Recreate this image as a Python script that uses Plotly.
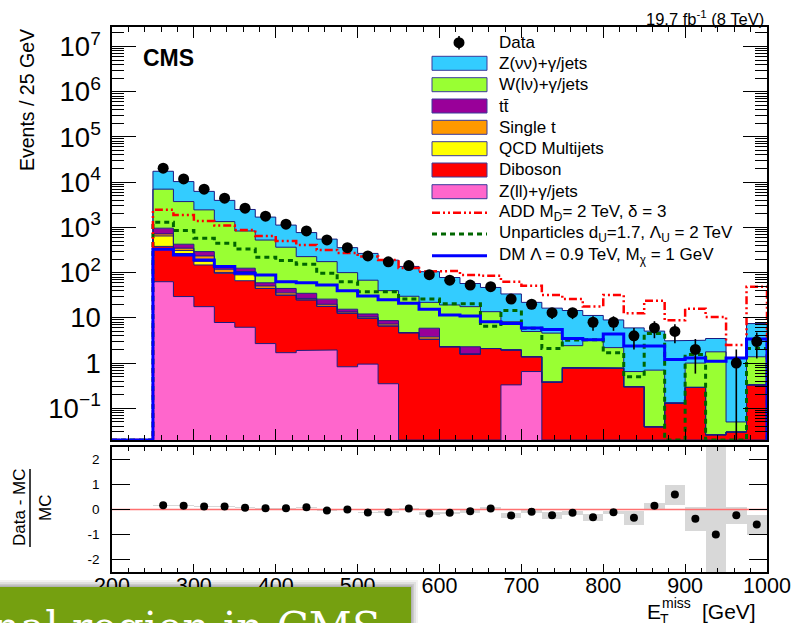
import plotly.graph_objects as go

W, H = 794, 623

# ---------------- data ----------------
bin_edges = [250 + 25 * i for i in range(31)]
bin_centers = [e + 12.5 for e in bin_edges[:-1]]

data_counts = [20400, 11800, 7000, 4430, 2660, 1770, 1180, 837, 529, 357,
               234, 173, 143, 90, 68, 53, 49, 26, 20, 13,
               13, 8, 8, 4, 6, 5, 2, 0, 1, 3]

zll = [63, 29.6, 17.7, 7.9, 6.2, 2.7, 1.7, 1.9, 1.95, 0.83,
       0.95, 0.35, 0, 0, 0, 0, 0, 0.33, 0.65, 0,
       0, 0, 0, 0, 0, 0, 0, 0, 0, 0]
diboson = [317, 235, 130, 89, 60, 42, 30, 23, 16, 11.8,
           8.85, 6.25, 4.7, 3.36, 2.3, 1.58, 2.1, 1.62, 0.73, 0.38,
           0.77, 0.77, 0.77, 0.30, 0.039, 0.13, 0.29, 0.026, 0.03, 0.33]
qcd = [266, 45, 30, 3, 23, 0, 0, 0, 0, 0,
       0, 0, 0, 0, 0, 0, 0, 0, 0, 0,
       0, 0, 0, 0, 0, 0, 0, 0, 0, 0]
single_t = [72, 37, 56, 19, 16, 6, 4, 2, 2, 0.9,
            0.7, 0.7, 0, 0.44, 0, 0, 0, 0, 0, 0,
            0.03, 0, 0, 0, 0, 0, 0, 0, 0, 0]
ttbar = [242, 78, 58, 22, 20, 9, 9, 8, 6, 2,
         1.7, 1.4, 0, 2.1, 0, 0.72, 0, 0, 0, 0,
         0, 0, 0, 0, 0, 0, 0, 0, 0, 0]
wjets = [6040, 3295, 2148, 1202, 707, 465, 320, 191, 149, 84.5,
         55.8, 31.3, 25.3, 16.1, 17, 15.4, 11.6, 6.25, 3.62, 4.22,
         1.63, 2.43, 1.43, 0.35, 0.66, 0, 0.71, 1.75, 0.02, 1.05]
znn = [10400, 6580, 3810, 2612, 1658, 1165, 760, 542, 376, 257,
       198, 149, 107, 83, 58.7, 39.8, 33.3, 25.6, 17, 11.8,
       12.1, 8.1, 6.8, 5.35, 4.4, 2.97, 2.2, 1.72, 1.25, 6.1]

add_signal = [2440, 1890, 1390, 1100, 880, 648, 500, 410, 316, 270,
              226, 190, 126, 105, 109, 89, 85, 63, 51, 32,
              26, 17.8, 32, 12.6, 24, 8.9, 16, 10.5, 2.5, 49]
unparticles = [1300, 850, 575, 447, 333, 220, 185, 153, 97, 63,
               38, 38, 26, 26, 20.5, 20.5, 6.5, 14.5, 5.9, 2.1,
               3.2, 3.3, 1.7, 0.5, 4.5, 0, 1.55, 0, 0, 2.1]
dm_signal = [330, 245, 190, 136, 97, 89, 63, 60, 53, 40,
             30.5, 25, 21, 15.5, 11.6, 11, 8.2, 7.5, 6, 5.5,
             3.5, 3.3, 4.4, 2.4, 2.4, 1.2, 1.3, 1.1, 1.3, 3.4]

ratio = [0.17, 0.15, 0.12, 0.12, 0.07, 0.05, 0.05, 0.09, -0.04, 0.0,
         -0.12, -0.11, 0.04, -0.16, -0.13, -0.07, 0.04, -0.24, -0.09, -0.23,
         -0.13, -0.31, -0.11, -0.33, 0.15, 0.6, -0.37, -1.0, -0.23, -0.6]
ratio_unc = [0.02, 0.02, 0.02, 0.02, 0.02, 0.02, 0.02, 0.03, 0.03, 0.03,
             0.03, 0.04, 0.04, 0.05, 0.05, 0.05, 0.05, 0.11, 0.06, 0.13,
             0.09, 0.15, 0.07, 0.27, 0.12, 0.4, 0.47, 4.0, 0.33, 0.4]

legend_labels = ["Data", "Z(νν)+γ/jets", "W(lν)+γ/jets", "tt\u0304", "Single t",
                 "QCD Multijets", "Diboson", "Z(ll)+γ/jets",
                 "ADD M<sub>D</sub>= 2 TeV, δ = 3",
                 "Unparticles d<sub>U</sub>=1.7, Λ<sub>U</sub> = 2 TeV",
                 "DM Λ = 0.9 TeV, M<sub>χ</sub> = 1 GeV"]

x_ticks = [200, 300, 400, 500, 600, 700, 800, 900, 1000]
ratio_ticks = [-2, -1, 0, 1, 2]
ratio_ticktext = ["-2", "-1", "0", "1", "2"]

# ---------------- geometry / style ----------------
X0, X1 = 112, 767
MAIN_T, MAIN_B = 27, 440
RAT_T, RAT_B = 447, 572
YLOG_MIN, YLOG_MAX = -1.70, 7.43
FLOOR = 10 ** YLOG_MIN
SANS = "Liberation Sans, Arial, sans-serif"
OUTLINE = "#1a1a80"


def px(x):
    return x / W


def py(y):
    return 1 - y / H


def step(vals, close=True, start=None):
    xs, ys = [], []
    if close:
        if start is not None:
            xs.append(start); ys.append(FLOOR)
        xs.append(bin_edges[0]); ys.append(FLOOR)
    for i, v in enumerate(vals):
        v = max(v, FLOOR)
        xs += [bin_edges[i], bin_edges[i + 1]]
        ys += [v, v]
    if close:
        xs.append(bin_edges[-1]); ys.append(FLOOR)
    return xs, ys


fig = go.Figure()

components = [
    (zll, "#FF66CC"),
    (diboson, "#FF0000"),
    (qcd, "#FFFF00"),
    (single_t, "#FF9900"),
    (ttbar, "#990099"),
    (wjets, "#99FF33"),
    (znn, "#33CCFF"),
]

cum_prev = [0.0] * len(bin_centers)
cums = []
for vals, col in components:
    cum = [a + b for a, b in zip(cum_prev, vals)]
    tx, ty = step(cum, close=False)
    bx, by = step(cum_prev, close=False)
    fig.add_trace(go.Scatter(x=tx + bx[::-1], y=ty + by[::-1], fill="toself",
                             fillcolor=col, mode="lines", line=dict(width=0),
                             hoverinfo="skip", showlegend=False))
    cums.append(cum)
    cum_prev = cum

for cum in cums:
    sx, sy = step(cum, close=True, start=200)
    fig.add_trace(go.Scatter(x=sx, y=sy, mode="lines",
                             line=dict(color=OUTLINE, width=1),
                             hoverinfo="skip", showlegend=False))

ADD_DASH = "8px,3px,2px,3px,2px,3px"
UNP_DASH = "5px,4px"
signals = [
    (unparticles, "#006600", 3, UNP_DASH),
    (add_signal, "#FF0000", 2.5, ADD_DASH),
    (dm_signal, "#0000FF", 3, "solid"),
]
for vals, col, wd, dash in signals:
    sx, sy = step(vals, close=True, start=200)
    fig.add_trace(go.Scatter(x=sx, y=sy, mode="lines",
                             line=dict(color=col, width=wd, dash=dash),
                             hoverinfo="skip", showlegend=False))

# data points
dx, dy, eplus, eminus = [], [], [], []
for c, n in zip(bin_centers, data_counts):
    if n > 0:
        dx.append(c)
        dy.append(n)
        e = n ** 0.5
        eplus.append(e)
        eminus.append(min(e, n - FLOOR * 0.5))
fig.add_trace(go.Scatter(x=dx, y=dy, mode="markers",
                         marker=dict(color="black", size=11, symbol="circle"),
                         error_y=dict(type="data", symmetric=False, array=eplus,
                                      arrayminus=eminus, color="black",
                                      thickness=1.6, width=0),
                         hoverinfo="skip", showlegend=False))

# ratio panel
fig.add_trace(go.Bar(x=bin_centers, y=[2 * h for h in ratio_unc],
                     base=[r - h for r, h in zip(ratio, ratio_unc)], width=25,
                     marker=dict(color="rgba(195,195,195,0.65)", line=dict(width=0)),
                     xaxis="x2", yaxis="y2", hoverinfo="skip", showlegend=False))
fig.add_trace(go.Scatter(x=[200, 1000], y=[0, 0], mode="lines",
                         line=dict(color="#FF7070", width=1.6),
                         xaxis="x2", yaxis="y2", hoverinfo="skip", showlegend=False))
fig.add_trace(go.Scatter(x=bin_centers, y=ratio, mode="markers",
                         marker=dict(color="black", size=8),
                         xaxis="x2", yaxis="y2", hoverinfo="skip", showlegend=False))

axis_common = dict(showline=True, linecolor="black", linewidth=1.5, mirror="ticks",
                   showgrid=False, zeroline=False, ticks="inside", tickcolor="black",
                   tickwidth=1, automargin=False)

fig.update_layout(
    width=W, height=H,
    margin=dict(l=0, r=0, t=0, b=0, autoexpand=False),
    paper_bgcolor="white", plot_bgcolor="white",
    showlegend=False,
    bargap=0,
    xaxis=dict(domain=[px(X0), px(X1)], range=[200, 1000], anchor="y",
               showticklabels=False, tickvals=x_ticks, ticklen=11,
               minor=dict(ticks="inside", ticklen=5.5, dtick=20, tick0=200,
                          tickcolor="black", showgrid=False),
               **axis_common),
    yaxis=dict(domain=[py(MAIN_B), py(MAIN_T)], type="log",
               range=[YLOG_MIN, YLOG_MAX], dtick=1, ticklen=24,
               exponentformat="power",
               minor=dict(ticks="inside", ticklen=12, dtick="D1",
                          tickcolor="black", showgrid=False),
               tickfont=dict(family=SANS, size=22, color="black"),
               ticklabelstandoff=5,
               anchor="x", **axis_common),
    xaxis2=dict(domain=[px(X0), px(X1)], range=[200, 1000], anchor="y2",
                tickvals=x_ticks, ticklen=8,
                minor=dict(ticks="inside", ticklen=4, dtick=20, tick0=200,
                           tickcolor="black", showgrid=False),
                tickfont=dict(family=SANS, size=21.5, color="black"),
                ticklabelstandoff=-7,
                **axis_common),
    yaxis2=dict(domain=[py(RAT_B), py(RAT_T)], range=[-2.5, 2.5],
                tickvals=ratio_ticks, ticktext=ratio_ticktext, ticklen=18,
                tickfont=dict(family=SANS, size=13.5, color="black"),
                ticklabelstandoff=8,
                anchor="x2", **axis_common),
)

annotations = []
shapes = []


def ann(text, x, y, size, xanchor="center", yanchor="middle", color="black",
        family=SANS, angle=0, bold=False):
    if bold:
        text = "<b>" + text + "</b>"
    annotations.append(dict(text=text, x=px(x), y=py(y), xref="paper", yref="paper",
                            xanchor=xanchor, yanchor=yanchor, showarrow=False,
                            textangle=angle, borderpad=0,
                            font=dict(family=family, size=size, color=color)))


# titles and labels
ann("Events / 25 GeV", 27, 100, 19.5, angle=-90)
ann("CMS", 168.5, 58, 23, bold=True)
ann("19.7 fb<sup>-1</sup> (8 TeV)", 765, 18, 16.5, xanchor="right")
ann("Data - MC", 19, 508, 17, angle=-90)
ann("MC", 45, 508, 17, angle=-90)
shapes.append(dict(type="line", xref="paper", yref="paper", x0=px(30), x1=px(30),
                   y0=py(469), y1=py(547), line=dict(color="black", width=1.5)))
ann("E", 654, 611, 21)
ann("miss", 661, 603, 14, xanchor="left")
ann("T", 664, 619, 14)
ann("[GeV]", 729, 611, 21)

# legend (drawn by hand, ROOT style)
rows = [42.7, 63.3, 84.7, 106, 127.3, 148.7, 170, 191.7, 212.7, 234, 255.7]
LX0, LX1, TX = 432, 487, 498
swatch_cols = ["#33CCFF", "#99FF33", "#990099", "#FF9900", "#FFFF00", "#FF0000", "#FF66CC"]
for i, lab in enumerate(legend_labels):
    ann(lab, TX, rows[i], 17, xanchor="left")
# data symbol
shapes.append(dict(type="line", xref="paper", yref="paper", x0=px(459), x1=px(459),
                   y0=py(36), y1=py(49.5), line=dict(color="black", width=1.6)))
shapes.append(dict(type="circle", xref="paper", yref="paper", x0=px(453.5), x1=px(464.5),
                   y0=py(37.2), y1=py(48.2), fillcolor="black", line=dict(width=0)))
for i, col in enumerate(swatch_cols):
    c = rows[i + 1]
    shapes.append(dict(type="rect", xref="paper", yref="paper", x0=px(LX0), x1=px(LX1),
                       y0=py(c + 7), y1=py(c - 7), fillcolor=col,
                       line=dict(color="#3a3a9a", width=1)))
for (vals, col, wd, dash), r in zip([signals[1], signals[0], signals[2]], rows[8:]):
    shapes.append(dict(type="line", xref="paper", yref="paper", x0=px(LX0), x1=px(LX1),
                       y0=py(r), y1=py(r), line=dict(color=col, width=wd, dash=dash)))

# slide banner overlapping the bottom-left
BAN_T, BAN_R = 587, 411
for k, a in [(7, 0.05), (5, 0.07), (3, 0.09), (1.5, 0.12)]:
    shapes.append(dict(type="rect", xref="paper", yref="paper", layer="above",
                       x0=px(-10), x1=px(BAN_R + k), y0=py(H + 10), y1=py(BAN_T - k),
                       fillcolor="rgba(0,0,0,%.2f)" % a, line=dict(width=0)))
shapes.append(dict(type="rect", xref="paper", yref="paper", layer="above",
                   x0=px(-10), x1=px(BAN_R), y0=py(H + 10), y1=py(BAN_T),
                   fillcolor="rgb(117,160,16)", line=dict(width=0)))
ann("Signal region in CMS", 382, 627, 42, xanchor="right", color="white",
    family="DejaVu Serif, serif")

fig.update_layout(annotations=annotations, shapes=shapes)
fig.write_html("out.html")
